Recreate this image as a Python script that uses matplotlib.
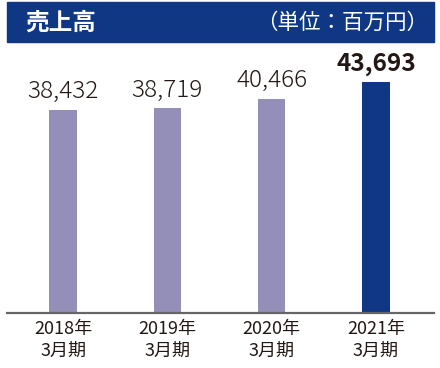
import matplotlib
matplotlib.use("Agg")
import matplotlib.pyplot as plt
from matplotlib.patches import Rectangle

plt.rcParams['font.family'] = ['Noto Sans CJK JP', 'DejaVu Sans']

years = ['2018年\n3月期', '2019年\n3月期', '2020年\n3月期', '2021年\n3月期']
sales = [38432, 38719, 40466, 43693]
title = '売上高'
unit = '（単位：百万円）'

gray = '#938fb8'
navy = '#0f3784'
txt = '#231815'
colors = [gray, gray, gray, navy]

fig = plt.figure(figsize=(4.4, 3.68), dpi=100)

# header band
fig.patches.append(Rectangle((7/440, 1 - 42/368), 427/440, 40/368,
                             transform=fig.transFigure, color=navy, zorder=0))
fig.text(25/440, 1 - 23/368, title, color='white', fontsize=17,
         fontweight='bold', va='center', ha='left')
fig.text(428/440, 1 - 23/368, unit, color='white', fontsize=15.5,
         va='center', ha='right')

ax = fig.add_axes([7/440, 55/368, 427/440, 263/368])
x = range(len(sales))
ax.bar(x, sales, width=0.26, color=colors)
ax.set_xlim(-0.537, 3.556)
ax.set_ylim(0, 49700)

for i, v in enumerate(sales):
    ax.annotate(f'{v:,}', (i, v), xytext=(0, 4), textcoords='offset points',
                ha='center', va='bottom', fontsize=17.5, color=txt,
                fontweight='bold' if i == 3 else 'light')

for s in ['top', 'left', 'right']:
    ax.spines[s].set_visible(False)
ax.spines['bottom'].set_color('#666666')
ax.spines['bottom'].set_linewidth(1.6)
ax.set_yticks([])
ax.set_xticks(list(x))
ax.set_xticklabels(years, fontsize=13, color=txt, linespacing=1.3)
ax.tick_params(axis='x', length=0, pad=5)

fig.savefig('out.png', dpi=100)
